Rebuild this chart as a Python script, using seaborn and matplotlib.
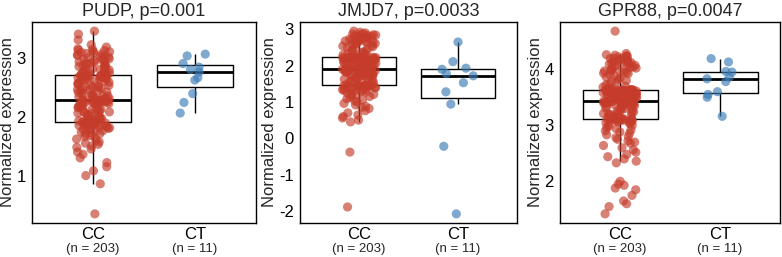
import numpy as np
import pandas as pd
import seaborn as sns
import matplotlib.pyplot as plt

# Normalized expression values (CC n=203, CT n=11)
pudp_cc = [
    0.35, 0.86, 1.00, 1.08, 1.15, 1.22, 1.30, 1.36, 1.40, 1.45, 1.48, 1.50, 1.53, 1.55, 1.57, 1.60, 1.62, 1.64, 1.66, 1.68,
    1.70, 1.71, 1.72, 1.74, 1.75, 1.76, 1.77, 1.78, 1.79, 1.80, 1.81, 1.82, 1.83, 1.84, 1.85, 1.85, 1.86, 1.86, 1.87, 1.87,
    1.88, 1.88, 1.88, 1.89, 1.89, 1.89, 1.90, 1.90, 1.90, 1.90, 1.91,
    1.91, 1.92, 1.93, 1.94, 1.95, 1.96, 1.97, 1.98, 1.99, 2.00, 2.01, 2.02, 2.03, 2.04, 2.05, 2.06, 2.07, 2.08, 2.09, 2.10,
    2.11, 2.12, 2.13, 2.14, 2.15, 2.16, 2.17, 2.18, 2.19, 2.20, 2.21, 2.22, 2.22, 2.23, 2.23, 2.24, 2.24, 2.25, 2.25, 2.26,
    2.26, 2.26, 2.27, 2.27, 2.27, 2.27, 2.28, 2.28, 2.28, 2.28, 2.28,
    2.29, 2.30, 2.31, 2.32, 2.33, 2.34, 2.35, 2.36, 2.37, 2.38, 2.39, 2.40, 2.41, 2.42, 2.43, 2.44, 2.45, 2.46, 2.47, 2.48,
    2.49, 2.50, 2.51, 2.52, 2.53, 2.54, 2.55, 2.56, 2.57, 2.58, 2.59, 2.60, 2.61, 2.62, 2.63, 2.64, 2.65, 2.66, 2.66, 2.67,
    2.67, 2.68, 2.68, 2.68, 2.69, 2.69, 2.69, 2.70, 2.70, 2.70,
    2.70, 2.71, 2.72, 2.73, 2.74, 2.75, 2.76, 2.77, 2.78, 2.79, 2.80, 2.81, 2.82, 2.83, 2.84, 2.85, 2.86, 2.87, 2.88, 2.89,
    2.90, 2.91, 2.92, 2.93, 2.94, 2.95, 2.96, 2.97, 2.98, 2.99, 3.00, 3.01, 3.02, 3.03, 3.04, 3.05, 3.06, 3.07, 3.08, 3.09,
    3.10, 3.11, 3.12, 3.13, 3.14, 3.15, 3.18, 3.22, 3.30, 3.40, 3.45,
]
pudp_ct = [2.06, 2.24, 2.39, 2.62, 2.66, 2.76, 2.80, 2.84, 2.90, 3.03, 3.06]

jmjd7_cc = [
    -1.89, -0.38, 0.45, 0.50, 0.56, 0.60, 0.64, 0.70, 0.76, 0.82, 0.85, 0.88, 0.92, 0.96, 1.00, 1.03, 1.06, 1.09, 1.12, 1.15,
    1.17, 1.19, 1.21, 1.23, 1.25, 1.27, 1.29, 1.31, 1.32, 1.33, 1.34, 1.35, 1.36, 1.37, 1.38, 1.39, 1.40, 1.41, 1.42, 1.43,
    1.43, 1.44, 1.44, 1.45, 1.45, 1.45, 1.46, 1.46, 1.46, 1.47, 1.47,
    1.47, 1.49, 1.51, 1.53, 1.55, 1.57, 1.59, 1.61, 1.63, 1.65, 1.66, 1.67, 1.68, 1.69, 1.70, 1.71, 1.72, 1.73, 1.74, 1.75,
    1.76, 1.77, 1.78, 1.79, 1.80, 1.81, 1.82, 1.83, 1.84, 1.85, 1.85, 1.86, 1.86, 1.87, 1.87, 1.87, 1.88, 1.88, 1.88, 1.89,
    1.89, 1.89, 1.89, 1.89, 1.90, 1.90, 1.90, 1.90, 1.90, 1.90, 1.90,
    1.91, 1.92, 1.93, 1.94, 1.95, 1.96, 1.97, 1.98, 1.99, 2.00, 2.01, 2.02, 2.03, 2.04, 2.05, 2.06, 2.07, 2.08, 2.09, 2.10,
    2.11, 2.12, 2.13, 2.14, 2.15, 2.15, 2.16, 2.16, 2.17, 2.17, 2.18, 2.18, 2.19, 2.19, 2.20, 2.20, 2.20, 2.21, 2.21, 2.21,
    2.21, 2.22, 2.22, 2.22, 2.22, 2.23, 2.23, 2.23, 2.23, 2.23,
    2.23, 2.24, 2.26, 2.28, 2.30, 2.32, 2.34, 2.36, 2.38, 2.40, 2.42, 2.44, 2.46, 2.48, 2.50, 2.52, 2.54, 2.56, 2.58, 2.60,
    2.61, 2.62, 2.63, 2.64, 2.65, 2.66, 2.67, 2.68, 2.69, 2.70, 2.71, 2.72, 2.73, 2.74, 2.75, 2.76, 2.77, 2.78, 2.79, 2.80,
    2.81, 2.82, 2.83, 2.84, 2.85, 2.86, 2.87, 2.88, 2.90, 2.92, 2.95,
]
jmjd7_ct = [-2.08, -0.22, 0.94, 1.28, 1.53, 1.72, 1.78, 1.90, 1.93, 2.11, 2.65]

gpr88_cc = [
    1.42, 1.55, 1.60, 1.65, 1.75, 1.85, 1.88, 1.93, 1.95, 2.00, 2.33, 2.36, 2.40, 2.44, 2.48, 2.52, 2.56, 2.60, 2.64, 2.68,
    2.70, 2.72, 2.75, 2.78, 2.80, 2.83, 2.86, 2.88, 2.90, 2.92, 2.94, 2.96, 2.98, 3.00, 3.02, 3.03, 3.04, 3.05, 3.06, 3.07,
    3.08, 3.08, 3.09, 3.09, 3.10, 3.10, 3.11, 3.11, 3.11, 3.12, 3.12,
    3.12, 3.13, 3.14, 3.15, 3.16, 3.17, 3.18, 3.19, 3.20, 3.21, 3.22, 3.23, 3.24, 3.25, 3.26, 3.27, 3.28, 3.29, 3.30, 3.31,
    3.32, 3.33, 3.34, 3.35, 3.36, 3.37, 3.37, 3.38, 3.38, 3.39, 3.39, 3.40, 3.40, 3.40, 3.41, 3.41, 3.41, 3.42, 3.42, 3.42,
    3.42, 3.42, 3.43, 3.43, 3.43, 3.43, 3.43, 3.43, 3.43, 3.43, 3.43,
    3.44, 3.45, 3.46, 3.47, 3.48, 3.48, 3.49, 3.49, 3.50, 3.50, 3.51, 3.51, 3.52, 3.52, 3.53, 3.53, 3.54, 3.54, 3.55, 3.55,
    3.56, 3.56, 3.57, 3.57, 3.58, 3.58, 3.59, 3.59, 3.60, 3.60, 3.60, 3.61, 3.61, 3.61, 3.62, 3.62, 3.62, 3.62, 3.63, 3.63,
    3.63, 3.63, 3.63, 3.63, 3.63, 3.63, 3.63, 3.63, 3.63, 3.63,
    3.64, 3.66, 3.68, 3.70, 3.72, 3.74, 3.76, 3.78, 3.80, 3.82, 3.84, 3.86, 3.88, 3.90, 3.92, 3.93, 3.94, 3.95, 3.96, 3.97,
    3.98, 3.99, 4.00, 4.01, 4.02, 4.03, 4.04, 4.05, 4.06, 4.07, 4.08, 4.09, 4.10, 4.11, 4.12, 4.13, 4.14, 4.15, 4.16, 4.17,
    4.18, 4.19, 4.20, 4.21, 4.22, 4.23, 4.24, 4.25, 4.26, 4.28, 4.68,
]
gpr88_ct = [3.16, 3.50, 3.55, 3.60, 3.78, 3.83, 3.86, 3.95, 3.96, 4.13, 4.19]

genes = ["PUDP", "JMJD7", "GPR88"]
pvalues = ["0.001", "0.0033", "0.0047"]
groups = ["CC", "CT"]
group_n = ["(n = 203)", "(n = 11)"]
yticks = [[1, 2, 3], [-2, -1, 0, 1, 2, 3], [2, 3, 4]]
palette = {"CC": "#C63C2A", "CT": "#3B7BB6"}


def make_frame(cc, ct):
    return pd.DataFrame({
        "group": ["CC"] * len(cc) + ["CT"] * len(ct),
        "value": cc + ct,
    })


def main():
    sns.set_style("white")
    plt.rcParams["font.family"] = ["Liberation Sans", "DejaVu Sans"]
    plt.rcParams["axes.unicode_minus"] = False
    np.random.seed(3)

    frames = [make_frame(pudp_cc, pudp_ct),
              make_frame(jmjd7_cc, jmjd7_ct),
              make_frame(gpr88_cc, gpr88_ct)]

    fig = plt.figure(figsize=(7.82, 2.57), dpi=100)
    lefts = [32, 300, 560]
    widths = [224, 217, 220]

    for i, df in enumerate(frames):
        ax = fig.add_axes([lefts[i] / 782, 34 / 257, widths[i] / 782, 201 / 257])

        sns.boxplot(data=df, x="group", y="value", order=groups, ax=ax,
                    color="black", fill=False, width=0.75, showfliers=False,
                    showcaps=False, linewidth=1.0,
                    medianprops={"linewidth": 2.0}, zorder=1)
        sns.stripplot(data=df, x="group", y="value", hue="group", order=groups,
                      palette=palette, jitter=0.17, size=6.6, alpha=0.65,
                      linewidth=0, legend=False, ax=ax, zorder=2)

        lo, hi = df["value"].min(), df["value"].max()
        pad = (hi - lo) * 0.05
        ax.set_ylim(lo - pad, hi + pad)
        ax.set_xlim(-0.6, 1.6)
        ax.set_yticks(yticks[i])

        ax.set_title(f"{genes[i]}, p={pvalues[i]}", fontsize=13, pad=4)
        ax.set_xlabel("")
        ax.set_ylabel("Normalized expression", fontsize=12, labelpad=1)
        ax.tick_params(axis="both", labelsize=12, length=3, width=0.8,
                       color="#333333", pad=1.5, labelcolor="black")
        ax.tick_params(axis="x", pad=0)
        for j, lab in enumerate(group_n):
            ax.text(j, -0.1, lab, transform=ax.get_xaxis_transform(),
                    ha="center", va="top", fontsize=9.5)

        for spine in ax.spines.values():
            spine.set_visible(True)
            spine.set_color("black")
            spine.set_linewidth(1.0)

    fig.savefig("out.png", dpi=100)


if __name__ == "__main__":
    main()
